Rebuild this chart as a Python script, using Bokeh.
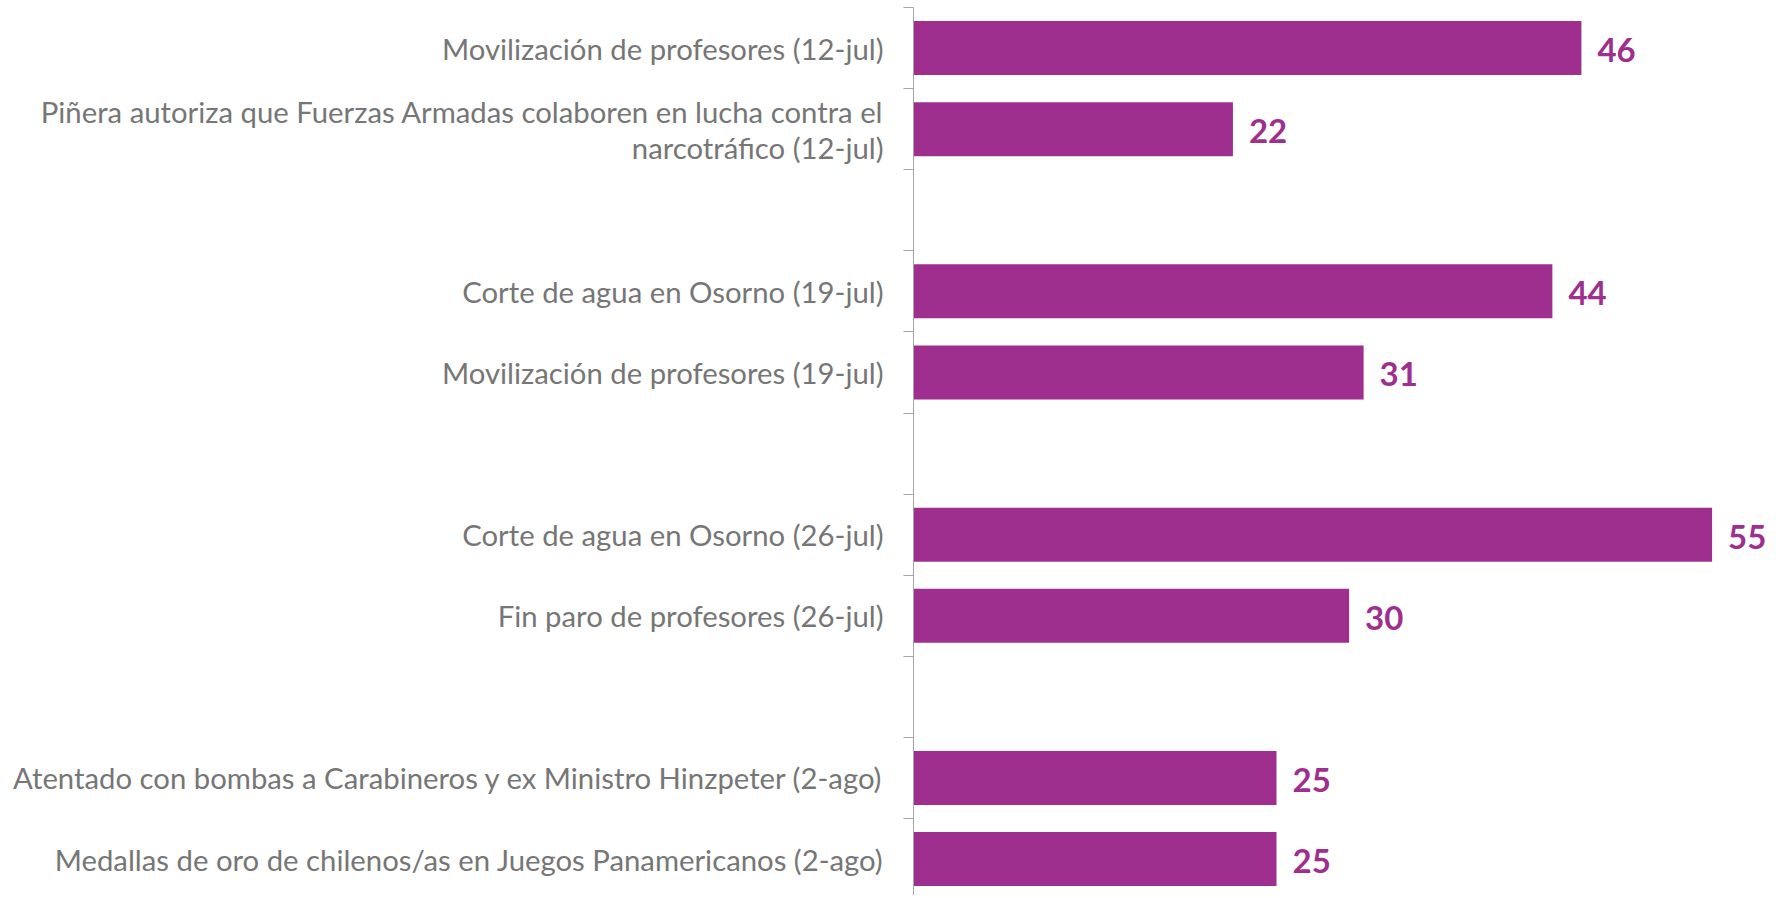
from bokeh.plotting import figure
from bokeh.models import Range1d, FixedTicker, ColumnDataSource
from bokeh.embed import file_html
from bokeh.resources import INLINE
from bokeh.core.properties import value

# Categories top to bottom ("" marks an empty slot between weeks)
categories = [
    "Movilización de profesores (12-jul)",
    "Piñera autoriza que Fuerzas Armadas colaboren en lucha contra el\nnarcotráfico (12-jul)",
    "",
    "Corte de agua en Osorno (19-jul)",
    "Movilización de profesores (19-jul)",
    "",
    "Corte de agua en Osorno (26-jul)",
    "Fin paro de profesores (26-jul)",
    "",
    "Atentado con bombas a Carabineros y ex Ministro Hinzpeter (2-ago)",
    "Medallas de oro de chilenos/as en Juegos Panamericanos (2-ago)",
]
values = [46, 22, None, 44, 31, None, 55, 30, None, 25, 25]

BAR = "#9E2F8E"
GRAY_TXT = "#767676"
AXIS = "#A6A6A6"

n = len(categories)
centers = [n - i - 0.5 for i in range(n)]

ys, xs, labs = [], [], []
for c, v in zip(centers, values):
    if v is not None:
        ys.append(c)
        xs.append(v)
        labs.append(str(v))
src = ColumnDataSource(dict(y=ys, x=xs, lab=labs))

W, H = 1770, 895
LEFT, TOP = 913, 7
px_per_unit = 14.52
slot_px = 81.1
x_end = (W - LEFT) / px_per_unit
slots_visible = (H - TOP) / slot_px

p = figure(width=W, height=H, output_backend="svg", toolbar_location=None,
           x_range=Range1d(0, x_end), y_range=Range1d(n - slots_visible, n),
           min_border_left=LEFT, min_border_right=0, min_border_top=TOP, min_border_bottom=0)
p.outline_line_color = None
p.xaxis.visible = False
p.xgrid.visible = False
p.ygrid.visible = False

p.hbar(y="y", right="x", left=0, height=0.666, source=src, fill_color=BAR, line_color=None)
p.text(x="x", y="y", text="lab", source=src, x_offset=16, y_offset=2, text_baseline="middle",
       text_align="left", text_color=BAR, text_font=value("Lato"), text_font_style="bold",
       text_font_size="33px")

yax = p.yaxis[0]
yax.ticker = FixedTicker(ticks=[c for c, cat in zip(centers, categories) if cat],
                         minor_ticks=list(range(0, n + 1)))
yax.major_label_overrides = {c: cat for c, cat in zip(centers, categories) if cat}
yax.major_tick_out = 0
yax.major_tick_in = 0
yax.minor_tick_out = 10
yax.minor_tick_in = 0
yax.minor_tick_line_color = AXIS
yax.axis_line_color = AXIS
yax.major_label_standoff = 20
yax.major_label_text_font = "Lato"
yax.major_label_text_font_size = "29.3px"
yax.major_label_text_color = GRAY_TXT
yax.major_label_text_line_height = 1.02

open("out.html", "w").write(file_html(p, INLINE))
